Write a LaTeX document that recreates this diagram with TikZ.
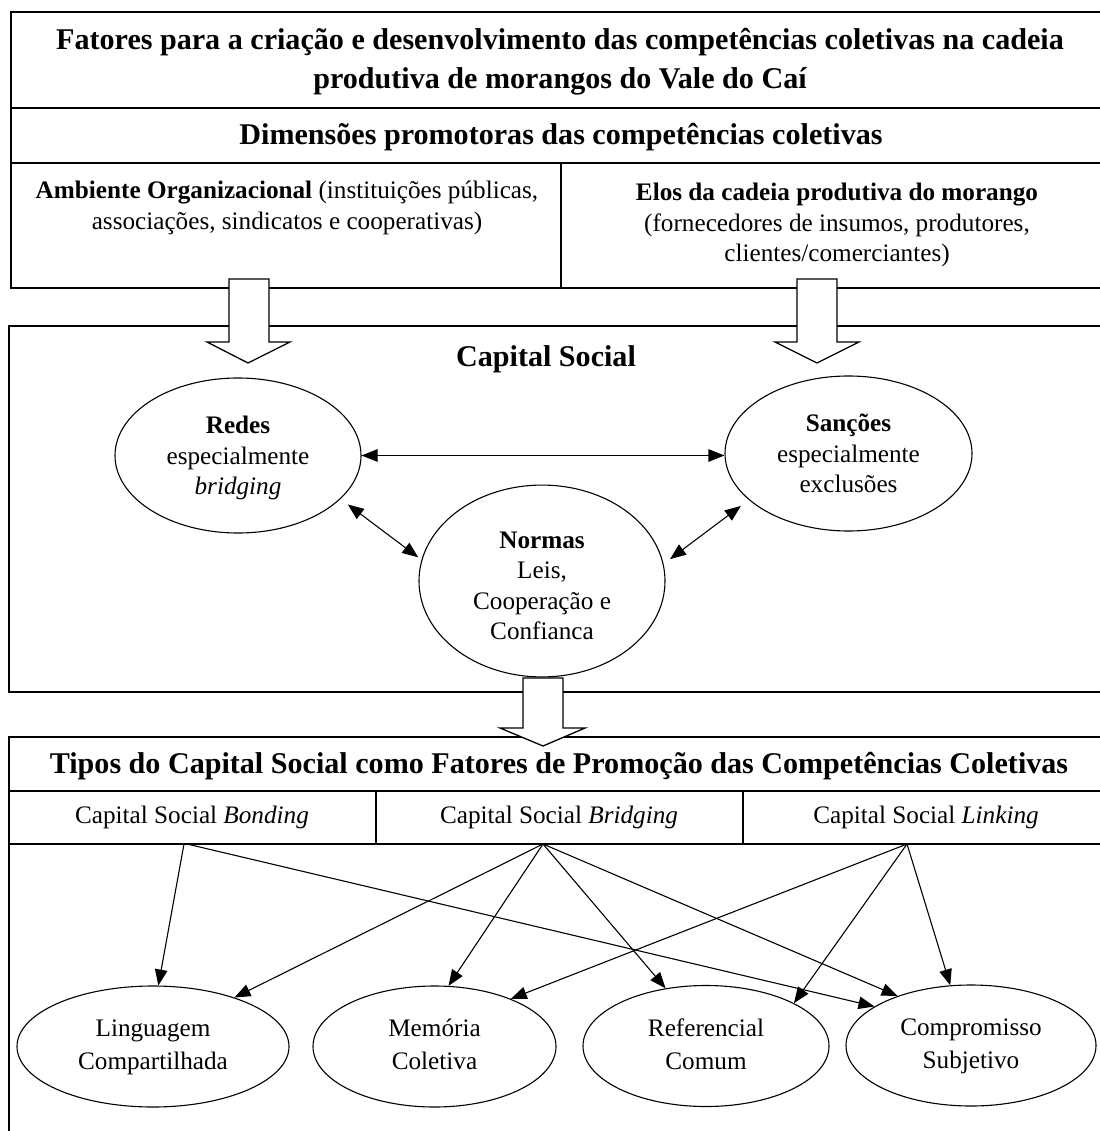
\documentclass[tikz,border=0pt]{standalone}
\usepackage{fontspec}
\setmainfont{Liberation Serif}
\usetikzlibrary{shapes.geometric,arrows.meta}
\begin{document}
\begin{tikzpicture}[x=1pt,y=-1pt,
  frame/.style={line width=1.4pt},
  bigtxt/.style={font=\fontsize{30.1}{39}\selectfont\bfseries, align=center, inner sep=0},
  txt/.style={font=\fontsize{25.2}{30.5}\selectfont, align=center, inner sep=0},
  oval/.style={draw, ellipse, line width=1.1pt, inner sep=0, font=\fontsize{25.2}{30.5}\selectfont, align=center},
  ovalb/.style={oval, font=\fontsize{25.2}{33}\selectfont},
  blockarrow/.style={draw, fill=white, line width=1.3pt, line join=miter},
  link/.style={line width=1.1pt, -{Triangle[length=16pt,width=12.5pt]}},
  dlink/.style={line width=1.1pt, {Triangle[length=16pt,width=12.5pt]}-{Triangle[length=16pt,width=12.5pt]}}
]
\useasboundingbox (0,0) rectangle (1099,1131);
% frames
\draw[frame] (11,12) rectangle (1113,288);
\draw[frame] (11,108) -- (1113,108);
\draw[frame] (11,163) -- (1113,163);
\draw[frame] (561,163) -- (561,288);
\draw[frame] (9,326) rectangle (1113,692);
\draw[frame] (9,737) rectangle (1113,1145);
\draw[frame] (9,791) -- (1113,791);
\draw[frame] (9,844) -- (1113,844);
\draw[frame] (376,791) -- (376,844);
\draw[frame] (743,791) -- (743,844);
% block arrows
\draw[blockarrow] (229,279) -- (229,342) -- (207,342) -- (248,363) -- (290,342) -- (269,342) -- (269,279) -- cycle;
\draw[blockarrow] (797,279) -- (797,342) -- (775,342) -- (817,363) -- (859,342) -- (837,342) -- (837,279) -- cycle;
\draw[blockarrow] (523,678) -- (523,728) -- (500,728) -- (543,746) -- (585,728) -- (563,728) -- (563,678) -- cycle;
% texts
\node[bigtxt] (title) at (560,62) {Fatores para a criação e desenvolvimento das competências coletivas na cadeia\\produtiva de morangos do Vale do Caí};
\node[bigtxt] (dim) at (561,137) {Dimensões promotoras das competências coletivas};
\node[txt] (amb) at (287,208) {\textbf{Ambiente Organizacional} (instituições públicas,\\associações, sindicatos e cooperativas)};
\node[txt] (elos) at (837,225) {\textbf{Elos da cadeia produtiva do morango}\\(fornecedores de insumos, produtores,\\clientes/comerciantes)};
\node[bigtxt] (cs) at (546,359) {Capital Social};
% capital social ellipses
\node[oval, minimum width=246, minimum height=155] (redes) at (238,455.5) {\rule{0pt}{27pt}\textbf{Redes}\\especialmente\strut\\\textit{bridging}\strut};
\node[oval, minimum width=247, minimum height=155] (sancoes) at (848.5,453.5) {\rule{0pt}{27pt}\textbf{Sanções}\\especialmente\strut\\exclusões\strut};
\node[oval, minimum width=246, minimum height=180] (normas) at (542,581) {\rule{0pt}{35pt}\textbf{Normas}\\Leis,\strut\\Cooperação e\strut\\Confianca\strut};
\draw[dlink] (redes.east) -- (redes.east -| sancoes.west);
\draw[dlink, shorten <=9pt, shorten >=4pt] (redes.-23) -- (normas.170);
\draw[dlink, shorten <=10pt, shorten >=8pt] (sancoes.205) -- (normas.8);
% types
\node[bigtxt] (tipos) at (559,766) {Tipos do Capital Social como Fatores de Promoção das Competências Coletivas};
\node[txt] (bonding) at (192,817) {Capital Social \textit{Bonding}\strut};
\node[txt] (bridging) at (559,817) {Capital Social \textit{Bridging}\strut};
\node[txt] (linking) at (926,817) {Capital Social \textit{Linking}\strut};
\coordinate (bo) at (184,844);
\coordinate (bo2) at (187,844);
\coordinate (br) at (543,844);
\coordinate (li) at (907,844);
\node[ovalb, minimum width=272, minimum height=121] (ling) at (153,1046.5) {Linguagem\strut\\Compartilhada\strut};
\node[ovalb, minimum width=243, minimum height=121] (mem) at (434.5,1046.5) {Memória\strut\\Coletiva\strut};
\node[ovalb, minimum width=246, minimum height=121] (ref) at (706,1046) {Referencial\strut\\Comum\strut};
\node[ovalb, minimum width=250, minimum height=121] (comp) at (971,1045.5) {Compromisso\strut\\Subjetivo\strut};
\draw[link] (bo) -- (ling.85);
\draw[link] (bo2) -- (comp.158);
\draw[link] (br) -- (ling.31);
\draw[link] (br) -- (mem.77);
\draw[link] (br) -- (ref.125);
\draw[link] (br) -- (comp.146);
\draw[link] (li) -- (mem.32);
\draw[link] (li) -- (ref.26);
\draw[link] (li) -- (comp.109);
\end{tikzpicture}
\end{document}
